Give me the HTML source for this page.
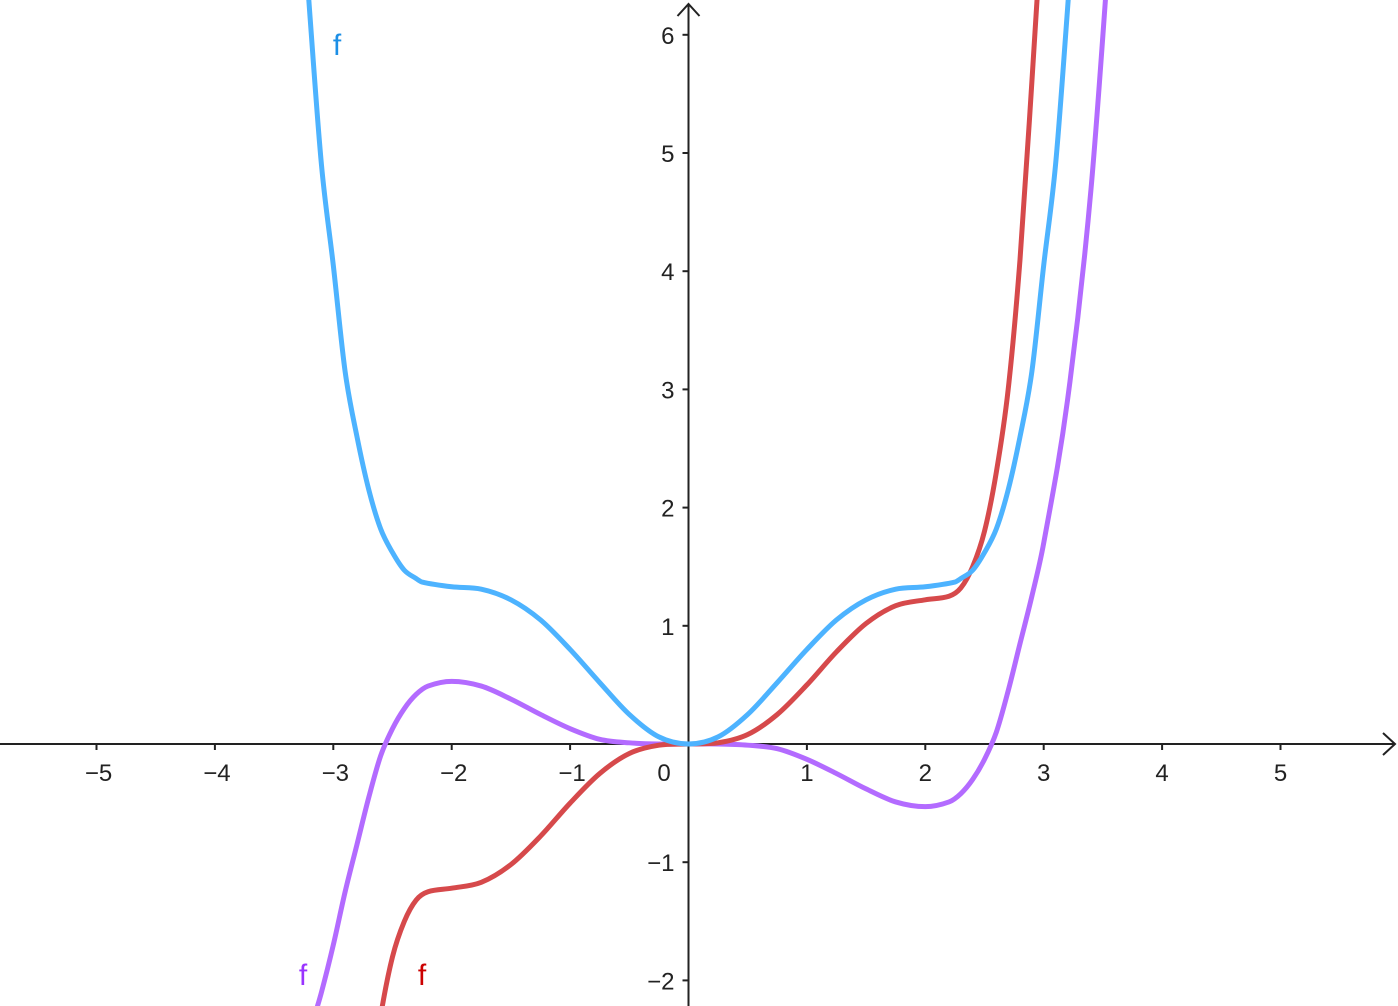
<!DOCTYPE html>
<html><head><meta charset="utf-8"><style>
html,body{margin:0;padding:0;background:#fff;overflow:hidden;}
svg{display:block;font-family:"Liberation Sans",Arial,sans-serif;}
</style></head><body>
<svg id="chart" width="1398" height="1006" viewBox="0 0 1398 1006" xmlns="http://www.w3.org/2000/svg"></svg>
<script>
const xTicks=[-5,-4,-3,-2,-1,1,2,3,4,5];
const yTicks=[-2,-1,1,2,3,4,5,6];
const blueX=[-3.3,-3.2,-3.1,-3.0,-2.9,-2.8,-2.7,-2.6,-2.5,-2.4,-2.3,-2.25,-2,-1.75,-1.5,-1.25,-1,-0.75,-0.5,-0.25,0,0.25,0.5,0.75,1,1.25,1.5,1.75,2,2.25,2.3,2.4,2.5,2.6,2.7,2.8,2.9,3.0,3.1,3.2,3.3];
const blueY=[7.6,6.2,4.9,4.05,3.15,2.6,2.15,1.82,1.62,1.47,1.40,1.37,1.33,1.31,1.22,1.05,0.8,0.52,0.25,0.06,0,0.06,0.25,0.52,0.8,1.05,1.22,1.31,1.33,1.37,1.40,1.47,1.62,1.82,2.15,2.6,3.15,4.05,4.9,6.2,7.6];
const redX=[-2.7,-2.6,-2.5,-2.4,-2.3,-2.2,-2,-1.75,-1.5,-1.25,-1,-0.75,-0.5,-0.25,0,0.25,0.5,0.75,1,1.25,1.5,1.75,2,2.2,2.3,2.4,2.5,2.6,2.7,2.8,2.9,3.0];
const redY=[-3.0,-2.3,-1.8,-1.5,-1.32,-1.25,-1.22,-1.17,-1.02,-0.78,-0.5,-0.25,-0.08,-0.01,0,0.01,0.08,0.25,0.5,0.78,1.02,1.17,1.22,1.25,1.32,1.5,1.8,2.3,3.0,4.1,5.6,7.2];
const purpX=[-3.3,-3.2,-3.1,-3.0,-2.9,-2.8,-2.7,-2.6,-2.5,-2.4,-2.3,-2.2,-2,-1.75,-1.5,-1.25,-1,-0.75,-0.5,-0.25,0,0.25,0.5,0.75,1,1.25,1.5,1.75,2,2.2,2.3,2.4,2.5,2.6,2.7,2.8,2.9,3.0,3.2,3.4,3.6];
const purpY=[-2.9,-2.45,-2.1,-1.7,-1.25,-0.85,-0.45,-0.1,0.13,0.3,0.42,0.49,0.53,0.49,0.38,0.25,0.13,0.04,0.01,0,0,0,-0.01,-0.04,-0.13,-0.25,-0.38,-0.49,-0.53,-0.49,-0.42,-0.3,-0.13,0.1,0.45,0.85,1.25,1.7,2.9,4.7,7.4];
const ox=688.5, oy=744, ux=118.4, uy=118.2;
const sx=v=>ox+v*ux, sy=v=>oy-v*uy;
const NS='http://www.w3.org/2000/svg';
const svg=document.getElementById('chart');
function mk(t,a,p){const e=document.createElementNS(NS,t);for(const k in a)e.setAttribute(k,a[k]);(p||svg).appendChild(e);return e;}
function path(xs,ys){
  const n=xs.length, m=[];
  for(let i=0;i<n;i++){
    if(i===0)m.push((ys[1]-ys[0])/(xs[1]-xs[0]));
    else if(i===n-1)m.push((ys[i]-ys[i-1])/(xs[i]-xs[i-1]));
    else m.push((ys[i+1]-ys[i-1])/(xs[i+1]-xs[i-1]));
  }
  let d='M'+sx(xs[0])+','+sy(ys[0]);
  for(let i=0;i<n-1;i++){
    const h=(xs[i+1]-xs[i])/3;
    d+=` C${sx(xs[i]+h)},${sy(ys[i]+m[i]*h)} ${sx(xs[i+1]-h)},${sy(ys[i+1]-m[i+1]*h)} ${sx(xs[i+1])},${sy(ys[i+1])}`;
  }
  return d;
}
const ax=mk('g',{});


const xa=mk('line',{x1:0,y1:oy,x2:1395,y2:oy,stroke:'#222','stroke-width':2},ax);


mk('path',{d:`M1383,${oy-11} L1395,${oy} L1383,${oy+11}`,fill:'none',stroke:'#222','stroke-width':2},ax);
const ya=mk('line',{x1:ox,y1:1006,x2:ox,y2:4,stroke:'#222','stroke-width':2},ax);


mk('path',{d:`M${ox-11},16 L${ox},4 L${ox+11},16`,fill:'none',stroke:'#222','stroke-width':2},ax);
xTicks.forEach(v=>{
  mk('line',{x1:sx(v),y1:oy,x2:sx(v),y2:oy+6,stroke:'#222','stroke-width':2},ax);
  const t=mk('text',{x:sx(v)+(v<0?2:0),y:oy+37,'text-anchor':'middle','font-size':24,fill:'#222'},ax);
  t.textContent=(v<0?'\u2212':'')+Math.abs(v);
  
  
});
yTicks.forEach(v=>{
  mk('line',{x1:ox-6,y1:sy(v),x2:ox,y2:sy(v),stroke:'#222','stroke-width':2},ax);
  const t=mk('text',{x:ox-14,y:sy(v)+9,'text-anchor':'end','font-size':24,fill:'#222'},ax);
  t.textContent=(v<0?'\u2212':'')+Math.abs(v);
  
  
});
const z=mk('text',{x:664,y:oy+37,'text-anchor':'middle','font-size':24,fill:'#222'},ax);
z.textContent='0';


mk('clipPath',{id:'c'},mk('defs',{})).appendChild(document.createElementNS(NS,'rect'));
const cr=svg.querySelector('#c rect');cr.setAttribute('width',1398);cr.setAttribute('height',1006);
const series=[[purpX,purpY,'#B36BFF','purple-curve'],[redX,redY,'#D6494B','red-curve'],[blueX,blueY,'#4DB3FF','blue-curve']];
series.forEach(s=>{
  const p=mk('path',{d:path(s[0],s[1]),fill:'none',stroke:s[2],'stroke-width':5,'clip-path':'url(#c)','stroke-linejoin':'round'});
  
  
});
[[337,55,'#1C8FE6','blue-curve-label'],[303,985,'#9933FF','purple-curve-label'],[422,985,'#CC0000','red-curve-label']].forEach(l=>{
  const t=mk('text',{x:l[0],y:l[1],'text-anchor':'middle','font-size':30,fill:l[2]});
  t.textContent='f';
  
  
});
</script>
</body></html>
